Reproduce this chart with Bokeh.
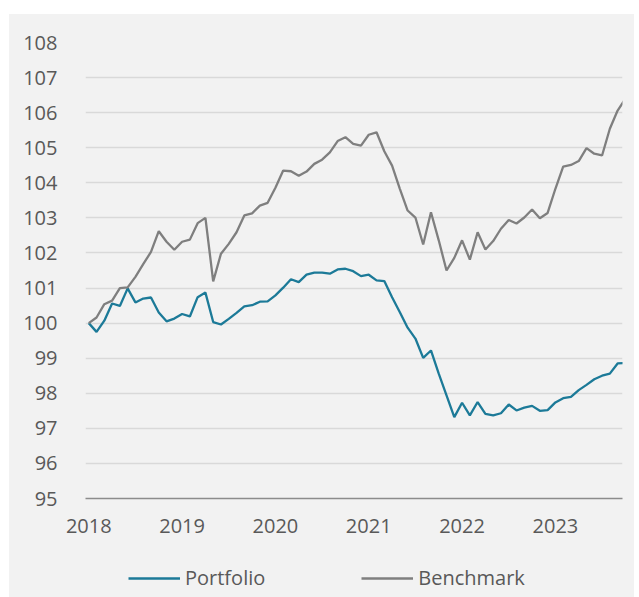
from bokeh.plotting import figure
from bokeh.layouts import column
from bokeh.models import Range1d, FixedTicker, Legend, LegendItem
from bokeh.embed import file_html
from bokeh.resources import INLINE

# month index counted from January 2018
months = list(range(70))

portfolio = [
    100.00, 99.75, 100.07, 100.56, 100.49, 100.99, 100.59, 100.70, 100.73, 100.30, 100.05, 100.13,
    100.26, 100.19, 100.74, 100.87, 100.03, 99.96, 100.12, 100.29, 100.48, 100.51, 100.61, 100.62,
    100.79, 101.01, 101.25, 101.17, 101.38, 101.44, 101.44, 101.41, 101.53, 101.55, 101.48, 101.34,
    101.38, 101.22, 101.20, 100.74, 100.31, 99.87, 99.56, 99.01, 99.22, 98.56, 97.94, 97.32,
    97.73, 97.37, 97.75, 97.41, 97.37, 97.43, 97.68, 97.51, 97.59, 97.64, 97.50, 97.52,
    97.74, 97.86, 97.90, 98.09, 98.24, 98.40, 98.50, 98.56, 98.85, 98.86,
]

benchmark = [
    100.00, 100.16, 100.54, 100.64, 101.00, 101.02, 101.32, 101.68, 102.03, 102.62, 102.32, 102.09,
    102.32, 102.38, 102.85, 103.00, 101.19, 101.98, 102.26, 102.59, 103.07, 103.13, 103.35, 103.43,
    103.86, 104.35, 104.33, 104.20, 104.32, 104.54, 104.66, 104.87, 105.19, 105.30, 105.11, 105.06,
    105.37, 105.44, 104.90, 104.49, 103.83, 103.21, 103.01, 102.24, 103.16, 102.36, 101.50, 101.86,
    102.36, 101.81, 102.59, 102.10, 102.34, 102.69, 102.94, 102.84, 103.01, 103.24, 102.99, 103.14,
    103.83, 104.46, 104.51, 104.62, 104.99, 104.83, 104.78, 105.54, 106.06, 106.40,
]

series_names = ["Portfolio", "Benchmark"]
series_colors = ["#1c7a98", "#7f7f7f"]
series_values = [portfolio, benchmark]

year_ticks = [2018, 2019, 2020, 2021, 2022, 2023]
tick_labels = ["2018", "2019", "2020", "2021", "2022", "2023"]
y_ticks = [95, 96, 97, 98, 99, 100, 101, 102, 103, 104, 105, 106, 107, 108]

x = [2018 + m / 12 for m in months]

TEXT = "#595959"
FONT = "Open Sans"
BG = "#f2f2f2"

p = figure(
    width=625, height=543,
    output_backend="svg", toolbar_location=None,
    x_range=Range1d(2017.965, 2023.719), y_range=Range1d(95, 108),
    min_border_left=76, min_border_right=12, min_border_top=28, min_border_bottom=59,
    background_fill_color=BG, border_fill_color=BG,
    outline_line_color=None,
)

for vals, color in zip(series_values, series_colors):
    p.line(x, vals, line_color=color, line_width=2.3)

p.xaxis.ticker = FixedTicker(ticks=year_ticks)
p.xaxis.major_label_overrides = {t: l for t, l in zip(year_ticks, tick_labels)}
p.yaxis.ticker = FixedTicker(ticks=y_ticks)

for ax in (p.xaxis[0], p.yaxis[0]):
    ax.major_tick_line_color = None
    ax.minor_tick_line_color = None
    ax.major_label_text_font = FONT
    ax.major_label_text_font_size = "20px"
    ax.major_label_text_color = TEXT

p.yaxis.axis_line_color = None
p.yaxis.major_label_standoff = 22
p.xaxis.axis_line_color = "#8c8c8c"
p.xaxis.axis_line_width = 1.5
p.xaxis.major_label_standoff = 14

p.xgrid.grid_line_color = None
p.ygrid.grid_line_color = "#d9d9d9"
p.ygrid.grid_line_width = 1.5

# legend strip below the chart (its series lie outside its ranges; only the legend shows)
pl = figure(
    width=625, height=40,
    output_backend="svg", toolbar_location=None,
    x_axis_type=None, y_axis_type=None,
    x_range=Range1d(0, 1), y_range=Range1d(0, 1),
    min_border=0, min_border_left=0, min_border_right=0, min_border_top=0, min_border_bottom=0,
    background_fill_color=BG, border_fill_color=BG, outline_line_color=None,
)
pl.xgrid.visible = False
pl.ygrid.visible = False
items = []
for name, vals, color in zip(series_names, series_values, series_colors):
    r = pl.line(x, vals, line_color=color, line_width=2.3)
    items.append(LegendItem(label=name, renderers=[r]))

legend = Legend(
    items=items,
    orientation="horizontal", location=(43, 6),
    border_line_color=None, background_fill_alpha=0,
    padding=0, margin=0, glyph_width=52, glyph_height=20, label_height=20,
    label_standoff=5, spacing=96,
    label_text_font=FONT, label_text_font_size="20px", label_text_color=TEXT,
)
pl.add_layout(legend)

layout = column(p, pl, spacing=0, margin=(14, 5, 0, 9),
                styles={"background-color": BG})

open("out.html", "w").write(file_html(layout, INLINE))
